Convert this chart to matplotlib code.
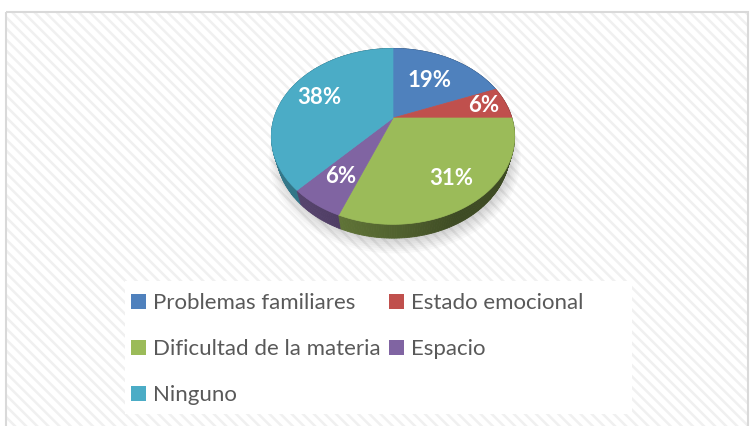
import numpy as np
import matplotlib.pyplot as plt
from matplotlib.patches import Polygon, Rectangle, Patch

plt.rcParams['font.family'] = ['Lato', 'DejaVu Sans']

categorias = ['Problemas familiares', 'Estado emocional', 'Dificultad de la materia',
              'Espacio', 'Ninguno']
porcentajes = [19, 6, 31, 6, 38]
colores = ['#4F81BD', '#C0504D', '#9BBB59', '#8064A2', '#4BACC6']

# perspective view of the 3D pie (pixel units)
CX, CY = 393, 118
F, D = 402, 3.38
ELEV = np.radians(45)
S, C = np.sin(ELEV), np.cos(ELEV)
GROSOR = 0.185
r_etiqueta = [0.6, 0.8, 0.76, 0.72, 0.7]


def proj(u, v, h=0.0):
    yc = v * S + h * C
    zc = D + v * C - h * S
    return CX + F * u / zc, CY - F * yc / zc


def oscurecer(color, f):
    rgb = np.array(plt.matplotlib.colors.to_rgb(color))
    return tuple(rgb * f)


fig = plt.figure(figsize=(7.53, 4.26), dpi=100)
ax = fig.add_axes([0, 0, 1, 1])
ax.set_xlim(0, 753)
ax.set_ylim(426, 0)
ax.axis('off')

# chart area: hatched background + border
plt.rcParams['hatch.linewidth'] = 1.8
ax.add_patch(Rectangle((6, 12), 742, 420, facecolor='white', edgecolor='#f0f0f0',
                       hatch='\\\\\\', linewidth=0))
ax.add_patch(Rectangle((6, 12), 742, 420, facecolor='none', edgecolor='#d9d9d9',
                       linewidth=1.5))
# legend area
ax.add_patch(Rectangle((125, 281), 507, 133, facecolor='white', edgecolor='none'))

# slice angles (start at 12 o'clock, clockwise)
acum = np.concatenate([[0], np.cumsum(porcentajes)])
inicios = 90 - 3.6 * acum[:-1]
finales = 90 - 3.6 * acum[1:]

# soft shadow
th = np.radians(np.linspace(0, 360, 200))
for k in range(7):
    rr = 1.0 + 0.012 * k
    pts = [proj(rr * np.cos(a), rr * np.sin(a), -GROSOR) for a in th]
    pts = [(x + 2, y + 2 + k * 0.6) for x, y in pts]
    ax.add_patch(Polygon(pts, closed=True, facecolor='black', alpha=0.025,
                         edgecolor='none'))

# side wall, drawn back to front
quads = []
for i in range(len(porcentajes)):
    angs = np.linspace(inicios[i], finales[i], max(int(abs(inicios[i] - finales[i])), 2) + 1)
    for a0, a1 in zip(angs[:-1], angs[1:]):
        t0, t1 = np.radians(a0), np.radians(a1)
        pts = [proj(np.cos(t0), np.sin(t0)), proj(np.cos(t1), np.sin(t1)),
               proj(np.cos(t1), np.sin(t1), -GROSOR), proj(np.cos(t0), np.sin(t0), -GROSOR)]
        tm = (t0 + t1) / 2
        depth = np.sin(tm)
        am = np.degrees(tm) % 360
        f = 0.4 + 0.3 * max(0.0, np.cos(np.radians(am - 205)))
        quads.append((depth, pts, oscurecer(colores[i], f)))
quads.sort(key=lambda q: -q[0])
for _, pts, col in quads:
    ax.add_patch(Polygon(pts, closed=True, facecolor=col, edgecolor=col, linewidth=0.6))

# top faces
for i in range(len(porcentajes)):
    angs = np.radians(np.linspace(inicios[i], finales[i], 80))
    pts = [proj(0, 0)] + [proj(np.cos(a), np.sin(a)) for a in angs]
    ax.add_patch(Polygon(pts, closed=True, facecolor=colores[i], edgecolor=colores[i],
                         linewidth=0.5))

# labels
for i, p in enumerate(porcentajes):
    am = np.radians((inicios[i] + finales[i]) / 2)
    x, y = proj(r_etiqueta[i] * np.cos(am), r_etiqueta[i] * np.sin(am))
    ax.text(x, y, f'{p}%', color='white', fontsize=16, fontweight='bold',
            ha='center', va='center')

# legend (row-major order with two columns)
orden = [0, 2, 4, 1, 3]
handles = [Patch(facecolor=colores[i], edgecolor='none') for i in orden]
labels = [categorias[i] for i in orden]
leg = ax.legend(handles, labels, ncol=2, loc='upper left',
                bbox_to_anchor=(131 / 753, 1 - 293 / 426), bbox_transform=fig.transFigure,
                frameon=False, fontsize=16, handlelength=0.68, handleheight=0.68,
                handletextpad=0.3, labelspacing=1.17, columnspacing=0.4, borderpad=0,
                borderaxespad=0)
for t in leg.get_texts():
    t.set_color('#595959')

fig.savefig('out.png', dpi=100)
